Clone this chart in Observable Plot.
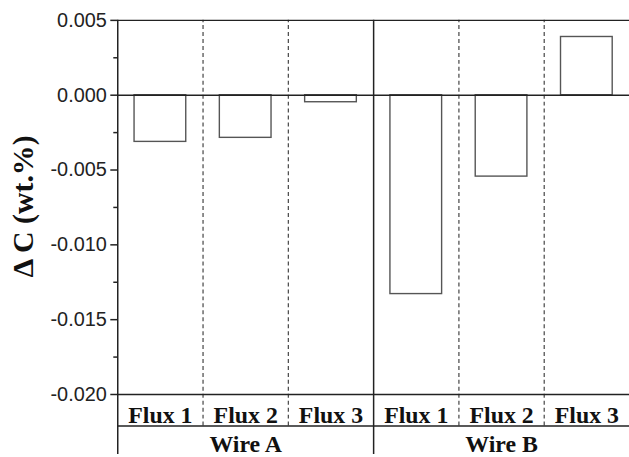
<!DOCTYPE html>
<html><head><meta charset="utf-8">
<script src="https://cdn.jsdelivr.net/npm/d3@7"></script>
<script src="https://cdn.jsdelivr.net/npm/@observablehq/plot@0.6"></script>
<style>html,body{margin:0;padding:0;background:#fff;overflow:hidden}</style>
</head><body><div id="chart"></div>
<script>
// ---- data ----
const wires = ["Wire A", "Wire A", "Wire A", "Wire B", "Wire B", "Wire B"];
const fluxes = ["Flux 1", "Flux 2", "Flux 3", "Flux 1", "Flux 2", "Flux 3"];
const deltaC = [-0.00312, -0.00285, -0.00047, -0.01329, -0.00544, 0.00389];
const majorTicks = [0.005, 0, -0.005, -0.010, -0.015, -0.020];
const minorTicks = [0.0025, -0.0025, -0.0075, -0.0125, -0.0175];
const yLabel = "\u0394 C (wt.%)";

// ---- derived ----
const data = deltaC.map((v, i) => ({i, wire: wires[i], flux: fluxes[i], value: v}));
const wireNames = [...new Set(wires)];
const wireLabels = wireNames.map(w => {
  const idx = data.filter(d => d.wire === w).map(d => d.i);
  return {wire: w, x: d3.mean(idx)};
});
const bounds = d3.range(1, data.length).map(i => ({x: i - 0.5, solid: wires[i] !== wires[i - 1]}));

// table rows below the plot (in y units, beyond domain)
const yMin = -0.020, yMax = 0.005;
const rowLine = -0.02211, tableBottom = -0.0241;
const half = 0.303;
const serif = "'Liberation Serif', 'Times New Roman', serif";
const sans = "'Liberation Sans', Arial, sans-serif";

const chart = Plot.plot({
  width: 633, height: 457,
  marginLeft: 118, marginRight: 0, marginTop: 20, marginBottom: 60.5,
  x: {type: "linear", domain: [-0.5, data.length - 0.5], axis: null},
  y: {domain: [yMin, yMax], label: null},
  style: {background: "#fff", overflow: "visible"},
  marks: [
    // bars
    Plot.rectY(data, {x1: d => d.i - half, x2: d => d.i + half, y1: 0, y2: "value",
      fill: "white", stroke: "#555", strokeWidth: 1.4}),
    // dashed separators
    Plot.ruleX(bounds.filter(b => !b.solid), {x: "x", y1: rowLine, y2: yMax,
      stroke: "#444", strokeWidth: 1.2, strokeDasharray: "4,3"}),
    // solid separators
    Plot.ruleX(bounds.filter(b => b.solid), {x: "x", y1: tableBottom, y2: yMax,
      stroke: "#222", strokeWidth: 1.5}),
    // left axis line
    Plot.ruleX([-0.5], {y1: tableBottom, y2: yMax, stroke: "#222", strokeWidth: 1.5}),
    // horizontal lines
    Plot.ruleY([yMax, 0, yMin], {stroke: "#222", strokeWidth: 1.5}),
    Plot.ruleY([rowLine], {x1: -0.5, x2: data.length - 0.5, stroke: "#222", strokeWidth: 1.5}),
    // y axis
    Plot.axisY({ticks: majorTicks, tickSize: 7, tickPadding: 4, tickFormat: d => d.toFixed(3),
      label: null, fontSize: 20, fontFamily: sans, stroke: "#222", strokeWidth: 1.5, fill: "#222"}),
    Plot.axisY({ticks: minorTicks, tickSize: 4, tickFormat: () => "", label: null,
      stroke: "#222", strokeWidth: 1.5}),
    // flux labels
    Plot.text(data, {x: "i", text: "flux", frameAnchor: "bottom", lineAnchor: "middle", dy: 21,
      fontSize: 24, fontWeight: "bold", fontFamily: serif, fill: "#111"}),
    // wire labels
    Plot.text(wireLabels, {x: "x", text: "wire", frameAnchor: "bottom", lineAnchor: "middle", dy: 50,
      fontSize: 24, fontWeight: "bold", fontFamily: serif, fill: "#111"}),
    // y label
    Plot.text([yLabel], {frameAnchor: "left", textAnchor: "middle", lineAnchor: "middle",
      dx: -95, dy: -1, rotate: -90,
      fontSize: 30, fontWeight: "bold", fontFamily: serif, fill: "#111"})
  ]
});
document.getElementById("chart").appendChild(chart);
</script>
</body></html>
